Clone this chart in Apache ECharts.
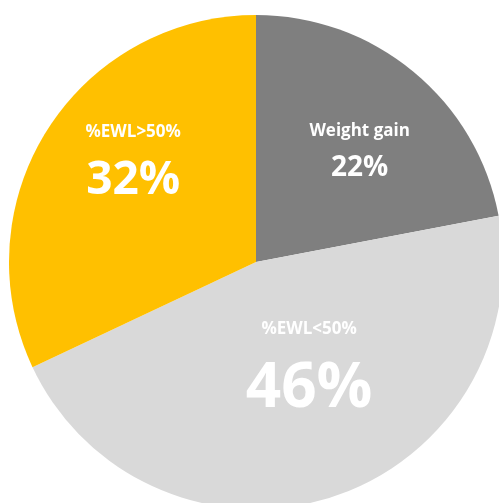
<!DOCTYPE html>
<html>
<head>
<meta charset="utf-8">
<script src="https://cdn.jsdelivr.net/npm/echarts@6/dist/echarts.min.js"></script>
<style>html,body{margin:0;padding:0;background:#fff;}#c{width:499px;height:503px;}</style>
</head>
<body>
<div id="c"></div>
<script>
var categories = ['Weight gain', '%EWL<50%', '%EWL>50%'];
var values = [22, 46, 32];
var colors = ['#7f7f7f', '#d9d9d9', '#ffc000'];
var valueSizes = [28, 62, 46];
var valueLineHeights = [44, 90, 69];
var labelOffsets = [[23, -11], [14, -8], [-16, -28]];

var chart = echarts.init(document.getElementById('c'), null, {renderer: 'canvas'});
var data = categories.map(function (name, i) {
  return {
    name: name,
    value: values[i],
    itemStyle: {color: colors[i]},
    label: {
      offset: labelOffsets[i],
      formatter: '{n|{b}}\n{v' + i + '|{c}%}'
    }
  };
});
var rich = {n: {fontSize: 17, fontWeight: 'bold', color: '#fff', fontFamily: 'Open Sans', lineHeight: 30, align: 'center'}};
valueSizes.forEach(function (s, i) {
  rich['v' + i] = {fontSize: s, fontWeight: 'bold', color: '#fff', fontFamily: 'Open Sans', lineHeight: valueLineHeights[i], align: 'center'};
});
chart.setOption({
  animation: false,
  series: [{
    type: 'pie',
    center: [256, 262],
    radius: 247,
    startAngle: 90,
    clockwise: true,
    data: data,
    itemStyle: {borderWidth: 0},
    label: {show: true, position: 'inside', color: '#fff', rich: rich},
    labelLine: {show: false},
    emphasis: {disabled: true}
  }]
});
</script>
</body>
</html>
